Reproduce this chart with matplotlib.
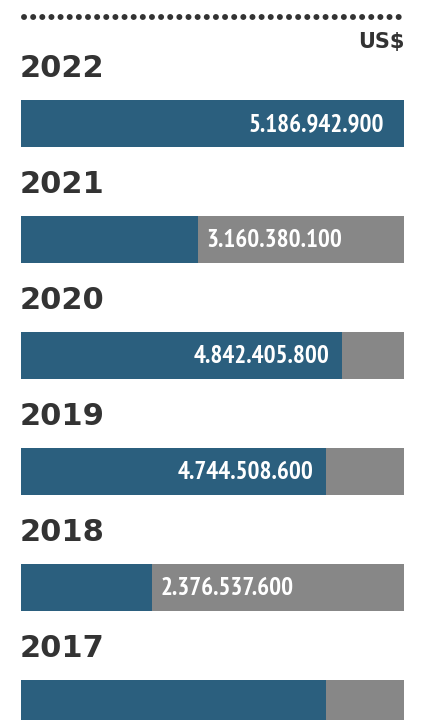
import matplotlib.pyplot as plt
from matplotlib import font_manager

# datos
anios = ['2022', '2021', '2020', '2019', '2018', '2017']
etiquetas = ['5.186.942.900', '3.160.380.100', '4.842.405.800',
             '4.744.508.600', '2.376.537.600', '']
# largo de la barra azul en % del ancho
largo = [100, 46.2, 83.8, 79.6, 34.2, 79.6]

azul = '#2b5f7e'
gris = '#878787'
oscuro = '#333333'

# buscar una fuente angosta para los numeros
narrow = [f for f in font_manager.fontManager.ttflist
          if 'narrow' in f.fname.lower() and 'bold' in f.fname.lower()
          and 'italic' not in f.fname.lower()]
condensed = [f for f in font_manager.fontManager.ttflist
             if 'condensed' in f.fname.lower() and 'bold' in f.fname.lower()
             and 'oblique' not in f.fname.lower() and 'italic' not in f.fname.lower()]
if narrow:
    prop_num = font_manager.FontProperties(fname=narrow[0].fname, size=18)
elif condensed:
    prop_num = font_manager.FontProperties(fname=condensed[0].fname, size=14.5)
else:
    prop_num = font_manager.FontProperties(family='DejaVu Sans', weight='bold', size=13)

fig = plt.figure(figsize=(4.22, 7.2), dpi=100)
ax = fig.add_axes([21 / 422, 0, 383 / 422, 1])
ax.set_xlim(0, 100)
ax.set_ylim(720, 0)
ax.axis('off')

# linea de puntos arriba
ax.plot([0.8, 99.3], [17, 17], linestyle=(0, (0.01, 1.52)), dash_capstyle='round',
        color=oscuro, linewidth=4.3, clip_on=False)
ax.text(100, 42, 'US$', ha='right', va='center', fontsize=15, fontweight='bold',
        color=oscuro)

for i, (anio, etq, v) in enumerate(zip(anios, etiquetas, largo)):
    yc = 123.5 + i * 116
    ax.barh(yc, 100, height=47, left=0, color=gris, clip_on=False)
    ax.barh(yc, v, height=47, left=0, color=azul, clip_on=False)
    ax.text(-0.3, yc - 55, anio, ha='left', va='center', fontsize=22,
            fontweight='bold', color=oscuro)
    if etq:
        if v > 50:
            pad = 5.2 if v >= 100 else 3.3
            ax.text(v - pad, yc + 1, etq, ha='right', va='center',
                    fontproperties=prop_num, color='white')
        else:
            ax.text(v + 2.3, yc + 1, etq, ha='left', va='center',
                    fontproperties=prop_num, color='white')

fig.savefig('out.png', dpi=100)
